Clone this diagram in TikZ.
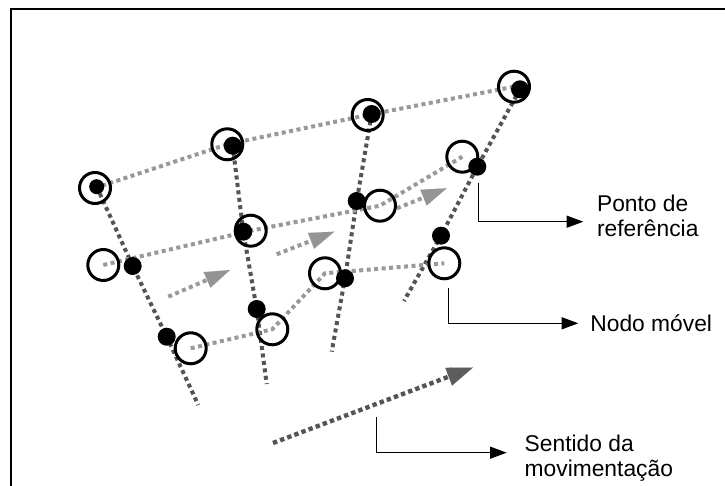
\documentclass[tikz,border=0pt]{standalone}
\usepackage{fontspec}
\setmainfont{Liberation Sans}
\usetikzlibrary{arrows.meta}

\definecolor{rowgray}{gray}{0.6}
\definecolor{colgray}{gray}{0.33}
\definecolor{headgray}{gray}{0.58}
\definecolor{bigheadgray}{gray}{0.36}

\pgfdeclarelayer{bg}
\pgfsetlayers{bg,main}

\begin{document}
\begin{tikzpicture}[x=0.5pt,y=-0.5pt,
  rowline/.style={draw=rowgray,line width=2pt,dash pattern=on 2pt off 1.75pt},
  colline/.style={draw=colgray,line width=2pt,dash pattern=on 2pt off 1.75pt},
  movearrow/.style={draw=rowgray,line width=2pt,dash pattern=on 2pt off 1.75pt,
    -{Triangle[length=12.5pt,width=8.5pt,color=headgray,line width=0.01pt]}},
  bigarrow/.style={draw=colgray,line width=2.2pt,dash pattern=on 2.2pt off 1.6pt,
    -{Triangle[length=13pt,width=9.5pt,color=bigheadgray,line width=0.01pt]}},
  mobile/.style={circle,draw=black,line width=1.5pt,minimum size=15.5pt,inner sep=0pt},
  refpt/.style={circle,fill=black,minimum size=9pt,inner sep=0pt},
  smallref/.style={refpt,minimum size=7.5pt},
  callout/.style={draw=black,line width=0.6pt,-{Triangle[length=8.3pt,width=6pt]}},
  label/.style={anchor=base west,inner sep=0pt,font=\fontsize{11.4pt}{12.5pt}\selectfont}
]
\useasboundingbox (0,0) rectangle (725,486);

% frame
\draw[line width=1.15pt] (11.2,486) -- (11.2,9) -- (725,9);

% mobile nodes (open circles)
\node[mobile] (m11) at (95,188) {};
\node[mobile] (m12) at (227.3,144.3) {};
\node[mobile] (m13) at (367.7,115) {};
\node[mobile] (m14) at (514,86.7) {};
\node[mobile] (m21) at (103.3,265) {};
\node[mobile] (m22) at (250.7,230.7) {};
\node[mobile] (m23) at (380,205.7) {};
\node[mobile] (m24) at (462.3,156.7) {};
\node[mobile] (m31) at (190.7,348.3) {};
\node[mobile] (m32) at (272.3,329.3) {};
\node[mobile] (m33) at (325,273.3) {};
\node[mobile] (m34) at (444.3,263.3) {};

% reference points (filled dots)
\node[smallref] (r11) at (96.7,186.7) {};
\node[refpt] (r12) at (232.7,145.7) {};
\node[refpt] (r13) at (371.7,114) {};
\node[refpt] (r14) at (520,89.3) {};
\node[refpt] (r21) at (132.7,266) {};
\node[refpt] (r22) at (243.3,231.7) {};
\node[refpt] (r23) at (356.7,201) {};
\node[refpt] (r24) at (477.3,166.7) {};
\node[refpt] (r31) at (166.7,336.7) {};
\node[refpt] (r32) at (256.7,309) {};
\node[refpt] (r33) at (345,278.3) {};
\node[refpt] (r34) at (441,235.7) {};

% lower ends of the reference columns
\coordinate (e1) at (198.3,405);
\coordinate (e2) at (266.7,384);
\coordinate (e3) at (331.7,351.7);
\coordinate (e4) at (404,301);

% movement arrows
\coordinate (a1s) at (168.3,296.7);  \coordinate (a1e) at (230,270);
\coordinate (a2s) at (276.7,254.3);  \coordinate (a2e) at (334.3,231.7);
\coordinate (a3s) at (397,208.3);    \coordinate (a3e) at (446.7,188.3);
\coordinate (bs) at (273,443);       \coordinate (be) at (473,367.5);

\begin{pgfonlayer}{bg}
  % reference columns
  \draw[colline] (r11.center) -- (r21.center) -- (r31.center) -- (e1);
  \draw[colline] (r12.center) -- (r22.center) -- (r32.center) -- (e2);
  \draw[colline] (r13.center) -- (r23.center) -- (r33.center) -- (e3);
  \draw[colline] (r14.center) -- (r24.center) -- (r34.center) -- (e4);
  % rows of mobile nodes
  \draw[rowline] (m11.center) -- (m12.center) -- (m13.center) -- (m14.center);
  \draw[rowline] (m21.center) -- (m22.center) -- (m23.center) -- (m24.center);
  \draw[rowline] (m31.center) -- (m32.center) -- (m33.center) -- (m34.center);
  % small movement arrows
  \draw[movearrow] (a1s) -- (a1e);
  \draw[movearrow] (a2s) -- (a2e);
  \draw[movearrow] (a3s) -- (a3e);
  % direction of movement
  \draw[bigarrow] (bs) -- (be);
\end{pgfonlayer}

% callouts
\coordinate (c1s) at (478.3,183.3);  \coordinate (c1e) at (583.3,221.7);
\coordinate (c2s) at (448.3,288.3);  \coordinate (c2e) at (578.3,323.3);
\coordinate (c3s) at (376.3,417.3);  \coordinate (c3e) at (506.7,452.7);
\draw[callout] (c1s) |- (c1e);
\draw[callout] (c2s) |- (c2e);
\draw[callout] (c3s) |- (c3e);

\node[label] (t1a) at (596.7,211.7) {Ponto de};
\node[label] (t1b) at (596.7,236.7) {referência};
\node[label] (t2)  at (590,331.7) {Nodo móvel};
\node[label] (t3a) at (524.3,451.7) {Sentido da};
\node[label] (t3b) at (524.3,476.7) {movimentação};
\end{tikzpicture}
\end{document}
